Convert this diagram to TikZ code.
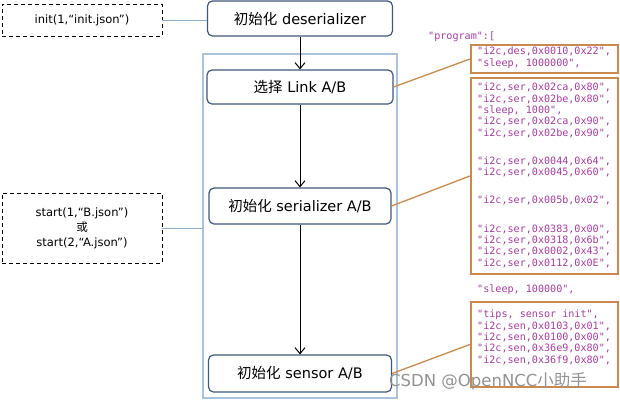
\documentclass[tikz,border=0pt]{standalone}
\usepackage{fontspec}
\setmainfont{DejaVu Sans}
\newfontfamily\cjk{Noto Sans CJK SC}
\newfontfamily\codefont{DejaVu Sans Mono}
\usetikzlibrary{arrows.meta}
\definecolor{boxborder}{HTML}{3F5A78}
\definecolor{contblue}{HTML}{A9C3DB}
\definecolor{linkblue}{HTML}{8FB0C8}
\definecolor{orangeline}{HTML}{C98A50}
\definecolor{codecol}{HTML}{A63DA0}
\tikzset{
  stepbox/.style={draw=boxborder, line width=1.2pt, rounded corners=5pt, fill=white, inner sep=0pt, font=\fontsize{14.5}{17}\selectfont},
  callbox/.style={draw=black, line width=0.9pt, dash pattern=on 4pt off 3pt, inner sep=0pt, align=center, font=\fontsize{11.5}{15}\selectfont},
  codebox/.style={draw=orangeline, line width=2.2pt, inner sep=0pt},
  codetext/.style={anchor=north west, inner sep=0pt, align=left, text=codecol, font=\codefont\fontsize{10.1}{11.3}\selectfont},
  flow/.style={draw=black, line width=1pt, -{Straight Barb[length=6pt,width=10pt,line width=1pt]}},
  bluelink/.style={draw=linkblue, line width=1pt},
  orangelink/.style={draw=orangeline, line width=1.3pt}
}
\begin{document}
\begin{tikzpicture}[x=1pt,y=-1pt]
\useasboundingbox[fill=white] (0,0) rectangle (620,400);
% container
\node[draw=contblue, line width=1.6pt, minimum width=194, minimum height=344, inner sep=0pt] (cont) at (300,226) {};
% flow boxes
\node[stepbox, minimum width=185, minimum height=35] (deser) at (300,18.5) {{\cjk 初始化} deserializer};
\node[stepbox, minimum width=186, minimum height=34] (link) at (300,87) {{\cjk 选择} Link A/B};
\node[stepbox, minimum width=182, minimum height=36] (ser) at (300,206) {{\cjk 初始化} serializer A/B};
\node[stepbox, minimum width=183, minimum height=37] (sensor) at (300,373.5) {{\cjk 初始化} sensor A/B};
% call boxes
\node[callbox, minimum width=160, minimum height=32] (init) at (82,20) {init(1,“init.json”)};
\node[callbox, minimum width=160, minimum height=70] (start) at (82,228) {start(1,“B.json”)\\{\cjk 或}\\start(2,“A.json”)};
% flow arrows
\draw[flow] (deser.south) -- (link.north);
\draw[flow] (link.south) -- (ser.north);
\draw[flow] (ser.south) -- (sensor.north);
% call connectors
\draw[bluelink] (init.east) -- (init.east -| deser.west);
\draw[bluelink] (start.east) -- (start.east -| cont.west);
% code boxes
\node[codebox, minimum width=147, minimum height=28] (ob1) at (544.5,59) {};
\node[codebox, minimum width=147, minimum height=196] (ob2) at (544.5,176) {};
\node[codebox, minimum width=147, minimum height=85] (ob3) at (544.5,344.5) {};
\draw[orangelink] (link.east) -- (ob1.west);
\draw[orangelink] (ser.east) -- (ob2.west);
\draw[orangelink] (sensor.east) -- (ob3.west);
% code text
\node[codetext] (prog) at (428,32) {"program":[};
\node[codetext] (c1) at (477,47) {"i2c,des,0x0010,0x22",\\"sleep, 1000000",};
\node[codetext] (c2) at (477,83) {"i2c,ser,0x02ca,0x80",\\"i2c,ser,0x02be,0x80",\\"sleep, 1000",\\"i2c,ser,0x02ca,0x90",\\"i2c,ser,0x02be,0x90",\\[17pt]"i2c,ser,0x0044,0x64",\\"i2c,ser,0x0045,0x60",\\[17pt]"i2c,ser,0x005b,0x02",\\[17pt]"i2c,ser,0x0383,0x00",\\"i2c,ser,0x0318,0x6b",\\"i2c,ser,0x0002,0x43",\\"i2c,ser,0x0112,0x0E",};
\node[codetext] (slp) at (477,285) {"sleep, 100000",};
\node[codetext] (c3) at (477,310) {"tips, sensor init",\\"i2c,sen,0x0103,0x01",\\"i2c,sen,0x0100,0x00",\\"i2c,sen,0x36e9,0x80",\\"i2c,sen,0x36f9,0x80",};
% watermark
\node[anchor=west, inner sep=0pt, text=gray!85, font=\fontsize{16.5}{19}\selectfont] (wm) at (389,381) {CSDN @OpenNCC{\cjk 小助手}};
\end{tikzpicture}
\end{document}
